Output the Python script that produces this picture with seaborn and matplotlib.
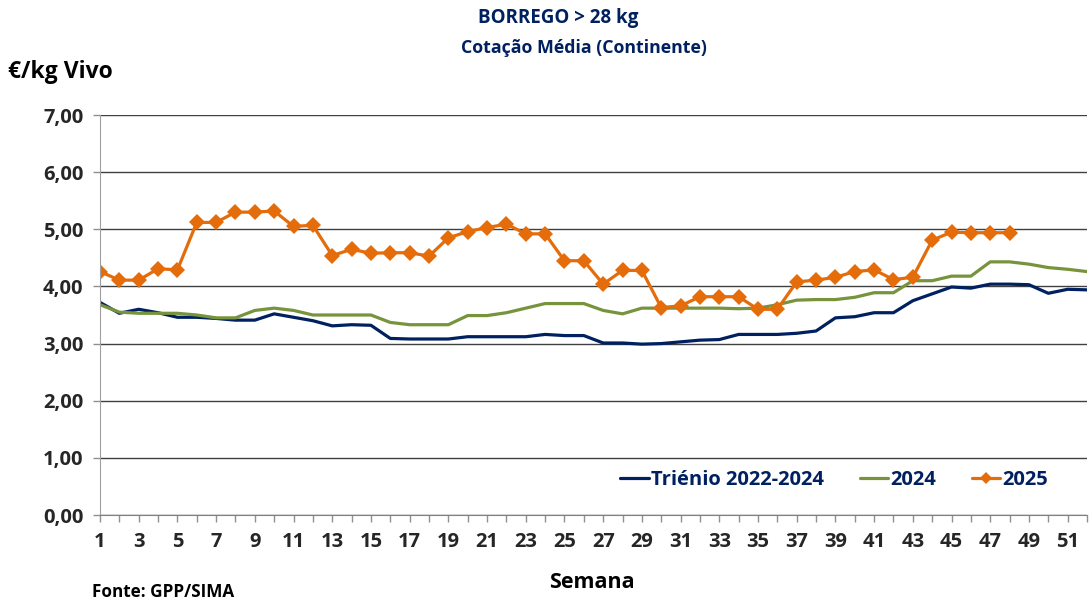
import pandas as pd
import matplotlib.pyplot as plt
import seaborn as sns

# Cotação média semanal (€/kg vivo)
semanas = list(range(1, 53))
trienio_2022_2024 = [3.72, 3.53, 3.60, 3.54, 3.46, 3.46, 3.44, 3.41, 3.41, 3.52,
                     3.46, 3.40, 3.31, 3.33, 3.32, 3.09, 3.08, 3.08, 3.08, 3.12,
                     3.12, 3.12, 3.12, 3.16, 3.14, 3.14, 3.01, 3.01, 2.99, 3.00,
                     3.03, 3.06, 3.07, 3.16, 3.16, 3.16, 3.18, 3.22, 3.45, 3.47,
                     3.54, 3.54, 3.75, 3.87, 3.99, 3.97, 4.04, 4.04, 4.03, 3.88,
                     3.95, 3.94]
ano_2024 = [3.68, 3.55, 3.53, 3.53, 3.53, 3.50, 3.45, 3.45, 3.58, 3.62,
            3.58, 3.50, 3.50, 3.50, 3.50, 3.37, 3.33, 3.33, 3.33, 3.49,
            3.49, 3.54, 3.62, 3.70, 3.70, 3.70, 3.58, 3.52, 3.62, 3.62,
            3.62, 3.62, 3.62, 3.61, 3.62, 3.68, 3.76, 3.77, 3.77, 3.81,
            3.89, 3.89, 4.10, 4.10, 4.18, 4.18, 4.43, 4.43, 4.39, 4.33,
            4.30, 4.26]
semanas_2025 = list(range(1, 49))
ano_2025 = [4.26, 4.11, 4.11, 4.31, 4.29, 5.12, 5.12, 5.30, 5.30, 5.32,
            5.05, 5.07, 4.54, 4.65, 4.58, 4.59, 4.59, 4.53, 4.85, 4.96,
            5.03, 5.09, 4.92, 4.92, 4.45, 4.45, 4.04, 4.28, 4.28, 3.63,
            3.66, 3.82, 3.82, 3.82, 3.60, 3.60, 4.08, 4.11, 4.16, 4.26,
            4.29, 4.12, 4.16, 4.81, 4.95, 4.94, 4.94, 4.94]

y_ticks = [0, 1, 2, 3, 4, 5, 6, 7]
y_labels = ["0,00", "1,00", "2,00", "3,00", "4,00", "5,00", "6,00", "7,00"]
x_labels = list(range(1, 52, 2))

navy = "#002060"
green = "#77933C"
orange = "#E46C0A"

sns.set_style("white")
plt.rcParams["font.family"] = ["Open Sans", "DejaVu Sans"]
plt.rcParams["font.weight"] = "bold"

fig = plt.figure(figsize=(10.9, 6.02), dpi=100)
ax = fig.add_axes([100 / 1090, 87 / 602, 987 / 1090, 400 / 602])

df_tri = pd.DataFrame({"semana": semanas, "valor": trienio_2022_2024})
df_24 = pd.DataFrame({"semana": semanas, "valor": ano_2024})
df_25 = pd.DataFrame({"semana": semanas_2025, "valor": ano_2025})

sns.lineplot(data=df_tri, x="semana", y="valor", ax=ax, color=navy,
             linewidth=2.3, label="Triénio 2022-2024")
sns.lineplot(data=df_24, x="semana", y="valor", ax=ax, color=green,
             linewidth=2.3, label="2024")
sns.lineplot(data=df_25, x="semana", y="valor", ax=ax, color=orange,
             linewidth=2.3, marker="D", markersize=8, markeredgewidth=0,
             label="2025")

ax.set_xlim(1, 52)
ax.set_ylim(0, 7)
ax.set_yticks(y_ticks)
ax.set_yticklabels(y_labels, fontsize=14.5, fontweight="bold")
ax.set_xticks(semanas, minor=True)
ax.set_xticks(x_labels)
ax.set_xticklabels([str(v) for v in x_labels], fontsize=14.5, fontweight="bold")
ax.tick_params(axis="x", which="both", direction="out", length=5, width=1,
               color="#909090", pad=7, bottom=True)
ax.tick_params(axis="y", direction="out", length=5, width=1,
               color="#909090", pad=7, left=True)

ax.grid(axis="y", color="#404040", linewidth=1)
ax.grid(axis="x", visible=False)
ax.set_axisbelow(True)
for side in ["top", "right"]:
    ax.spines[side].set_visible(False)
ax.spines["left"].set_color("#a0a0a0")
ax.spines["bottom"].set_color("#808080")
ax.set_xlabel("")
ax.set_ylabel("")

leg = ax.legend(loc="lower right", bbox_to_anchor=(0.979, 0.017), ncol=3,
                frameon=False, handlelength=1.4, handletextpad=0.1,
                columnspacing=1.8, prop={"size": 14.5, "weight": "bold"})
for t in leg.get_texts():
    t.set_color(navy)
for h in leg.legend_handles:
    h.set_markersize(6)

fig.text(558 / 1090, 1 - 18 / 602, "BORREGO > 28 kg", ha="center", va="center",
         fontsize=13.5, fontweight="bold", color=navy)
fig.text(584 / 1090, 1 - 48 / 602, "Cotação Média (Continente)", ha="center",
         va="center", fontsize=12.8, fontweight="bold", color=navy)
fig.text(8 / 1090, 1 - 72 / 602, "€/kg Vivo", ha="left", va="center",
         fontsize=16.5, fontweight="bold", color="black")
fig.text(592 / 1090, 1 - 582 / 602, "Semana", ha="center", va="center",
         fontsize=15.5, fontweight="bold", color="black")
fig.text(92 / 1090, 1 - 592 / 602, "Fonte: GPP/SIMA", ha="left", va="center",
         fontsize=12.3, fontweight="bold", color="black")

fig.savefig("out.png", dpi=100)
